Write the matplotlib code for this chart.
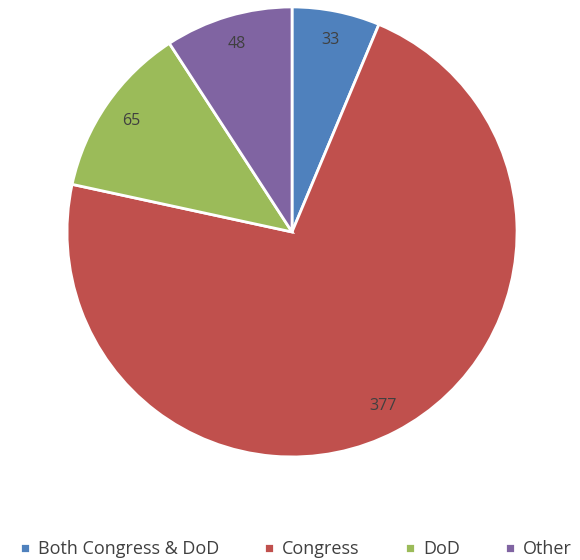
import matplotlib.pyplot as plt

labels = ['Both Congress & DoD', 'Congress', 'DoD', 'Other']
values = [33, 377, 65, 48]
colors = ['#4F81BD', '#C0504D', '#9BBB59', '#8064A2']

plt.rcParams['font.family'] = ['Open Sans', 'DejaVu Sans']

fig = plt.figure(figsize=(5.8, 5.6), dpi=100)
ax = fig.add_axes([0.1155, 0.184, 0.776, 0.8036])

wedges, texts, autotexts = ax.pie(
    values, colors=colors, startangle=90, counterclock=False,
    autopct=lambda p: '{:.0f}'.format(p * sum(values) / 100),
    pctdistance=0.87,
    wedgeprops=dict(edgecolor='white', linewidth=2),
    textprops=dict(color='#404040', fontsize=11.5))
ax.set_aspect('equal')
ax.set_xlim(-1, 1)
ax.set_ylim(-1, 1)

fig.legend(wedges, labels, loc='center', bbox_to_anchor=(0.51, 0.019),
           ncol=4, frameon=False, fontsize=13, labelcolor='#404040',
           handlelength=0.55, handleheight=0.55, handletextpad=0.45,
           columnspacing=2.5)

fig.savefig('out.png', dpi=100)
